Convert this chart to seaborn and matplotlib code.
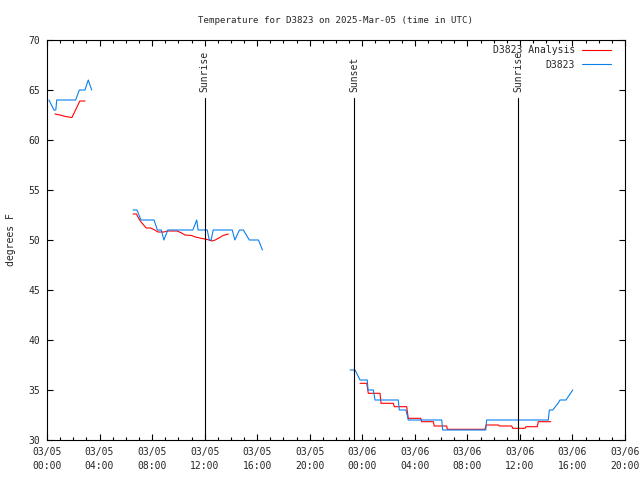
import pandas as pd
import seaborn as sns
import matplotlib.pyplot as plt
import matplotlib.dates as mdates

# Hours after 2025-03-05 00:00 UTC, temperatures in degrees F
START = pd.Timestamp("2025-03-05 00:00")
END = pd.Timestamp("2025-03-06 20:00")

obs1_h = [0.15, 0.53, 0.67, 0.74, 2.18, 2.46, 2.89, 3.14, 3.40]
obs1_f = [64, 63, 63, 64, 64, 65, 65, 66, 65]
ana1_h = [0.6, 1.0, 1.4, 1.9, 2.5, 2.9]
ana1_f = [62.6, 62.5, 62.35, 62.25, 63.9, 63.9]

obs2_h = [6.55, 6.85, 7.15, 8.15, 8.4, 8.7, 8.9, 9.2, 11.1, 11.4, 11.5, 12.2,
          12.35, 12.5, 12.65, 14.1, 14.3, 14.65, 14.95, 15.4, 16.1, 16.4]
obs2_f = [53, 53, 52, 52, 51, 51, 50, 51, 51, 52, 51, 51,
          50, 50, 51, 51, 50, 51, 51, 50, 50, 49]
ana2_h = [6.55, 6.8, 7.1, 7.55, 7.9, 8.2, 8.45, 8.9, 9.15, 9.9, 10.25, 10.5,
          11.0, 11.3, 11.8, 12.2, 12.55, 12.8, 13.15, 13.4, 13.8]
ana2_f = [52.6, 52.6, 51.9, 51.2, 51.2, 51.0, 50.8, 50.8, 50.9, 50.9, 50.7, 50.5,
          50.45, 50.3, 50.15, 50.05, 49.9, 50.0, 50.25, 50.45, 50.6]

obs3_h = [23.07, 23.45, 23.6, 23.83, 24.38, 24.44, 24.84, 24.97, 26.74, 26.82,
          27.33, 27.5, 30.05, 30.12, 33.4, 33.47, 38.16, 38.24, 38.5, 38.92,
          39.05, 39.51, 40.02]
obs3_f = [37, 37, 36.6, 36, 36, 35, 35, 34, 34, 33,
          33, 32, 32, 31, 31, 32, 32, 33, 33, 33.7,
          34, 34, 35]
ana3_h = [23.83, 24.34, 24.46, 25.35, 25.43, 26.36, 26.44, 27.38, 27.5, 28.45,
          28.52, 29.41, 29.48, 30.43, 30.47, 33.34, 33.42, 34.36, 34.43, 35.38,
          35.45, 36.39, 36.46, 37.32, 37.4, 38.34]
ana3_f = [35.67, 35.67, 34.67, 34.67, 33.67, 33.67, 33.33, 33.33, 32.17, 32.17,
          31.83, 31.83, 31.4, 31.4, 31.07, 31.07, 31.5, 31.5, 31.4, 31.4,
          31.17, 31.17, 31.33, 31.33, 31.83, 31.83]

sun_labels = ["Sunrise", "Sunset", "Sunrise"]
sun_hours = [12.0, 23.4, 35.85]

series_names = ["D3823 Analysis", "D3823"]
colors = {"D3823 Analysis": "#ff0000", "D3823": "#0a80f0"}

# Build long table, one unit per continuous stretch
rows = []
pieces = [("D3823 Analysis", ana1_h, ana1_f), ("D3823 Analysis", ana2_h, ana2_f),
          ("D3823 Analysis", ana3_h, ana3_f), ("D3823", obs1_h, obs1_f),
          ("D3823", obs2_h, obs2_f), ("D3823", obs3_h, obs3_f)]
for seg, (name, hrs, temps) in enumerate(pieces):
    for h, t in zip(hrs, temps):
        rows.append({"time": START + pd.Timedelta(hours=h), "temp": t,
                     "series": name, "seg": seg})
df = pd.DataFrame(rows)

sns.set_style("ticks")
plt.rcParams["font.family"] = ["DejaVu Sans Mono"]
plt.rcParams["font.size"] = 7

fig = plt.figure(figsize=(6.4, 4.8), dpi=100)
ax = fig.add_axes([47 / 640, 40 / 480, 578 / 640, 400 / 480])

sns.lineplot(data=df, x="time", y="temp", hue="series", hue_order=series_names,
             units="seg", estimator=None, palette=colors, linewidth=0.8, ax=ax)

# Sunrise / sunset markers
for lbl, h in zip(sun_labels, sun_hours):
    t = START + pd.Timedelta(hours=h)
    ax.plot([t, t], [30, 64.2], color="black", lw=0.8)
    ax.text(t, 64.8, lbl, rotation=90, ha="center", va="bottom", fontsize=7)

ax.set_xlim(START, END)
ax.set_ylim(30, 70)
ax.set_yticks(range(30, 71, 5))
ax.xaxis.set_major_locator(mdates.HourLocator(byhour=[0, 4, 8, 12, 16, 20]))
ax.xaxis.set_minor_locator(mdates.HourLocator())
ax.xaxis.set_major_formatter(mdates.DateFormatter("%m/%d\n%H:%M"))

ax.tick_params(which="both", direction="in", top=True, right=True,
               color="black", width=0.8, labelsize=7)
ax.tick_params(which="major", length=4.5, pad=5)
ax.tick_params(which="minor", length=2.2)
for s in ax.spines.values():
    s.set_color("black")
    s.set_linewidth(0.8)

ax.set_xlabel("")
ax.set_ylabel("degrees F", fontsize=7)
ax.yaxis.set_label_coords(-0.053, 0.5)
ax.set_title("Temperature for D3823 on 2025-Mar-05 (time in UTC)", fontsize=6.6, pad=12)

handles, labels = ax.get_legend_handles_labels()
ax.legend(handles, labels, loc="upper right", bbox_to_anchor=(0.976, 0.987),
          frameon=False, markerfirst=False, borderpad=0, borderaxespad=0,
          handlelength=3.0, handletextpad=0.7, labelspacing=0.45, fontsize=7)

fig.canvas.draw()
for lbl in ax.get_xticklabels():
    lbl.set_linespacing(1.5)

fig.savefig("out.png", dpi=100)
plt.close(fig)
